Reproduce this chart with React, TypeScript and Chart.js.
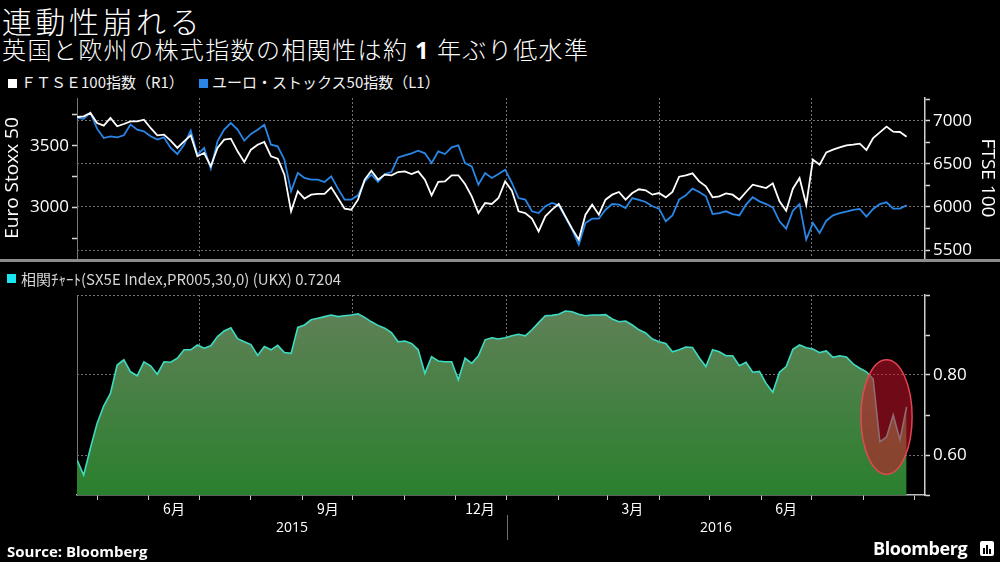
import React, { useEffect, useRef } from 'react';
import { Chart, registerables } from 'chart.js';
Chart.register(...registerables);

// ---------- data ----------
const START_DATE = '2015-04-19';
const STEP_DAYS = 4;
const X_MIN_DATE = '2015-04-19';
const X_MAX_DATE = '2016-09-07';

const ftse100 = [
  7043, 7051, 7089, 6973, 6942, 7031, 6935, 6962, 6993, 6993,
  7012, 6916, 6831, 6838, 6769, 6684, 6761, 6831, 6587, 6626,
  6471, 6684, 6780, 6792, 6645, 6522, 6664, 6722, 6753, 6587,
  6560, 6375, 5950, 6182, 6097, 6143, 6151, 6151, 6228, 6104,
  5981, 5969, 6085, 6317, 6421, 6317, 6375, 6367, 6405, 6413,
  6382, 6413, 6317, 6135, 6290, 6297, 6367, 6367, 6266, 6123,
  5930, 6046, 6035, 6104, 6297, 6189, 5950, 5930, 5865, 5718,
  5892, 5969, 6035, 5892, 5749, 5621, 5911, 6027, 5911, 6085,
  6143, 6174, 6085, 6162, 6205, 6193, 6143, 6162, 6112, 6174,
  6351, 6367, 6390, 6297, 6239, 6112, 6123, 6158, 6143, 6085,
  6174, 6259, 6239, 6220, 6274, 6065, 5957, 6212, 6336, 6027,
  6548, 6490, 6633, 6664, 6691, 6714, 6722, 6734, 6660, 6799,
  6865, 6931, 6873, 6869, 6815,
];

const euroStoxx50 = [
  3725, 3719, 3768, 3638, 3562, 3576, 3568, 3584, 3671, 3630,
  3616, 3576, 3549, 3568, 3481, 3432, 3508, 3622, 3427, 3481,
  3313, 3535, 3630, 3684, 3630, 3541, 3595, 3630, 3671, 3508,
  3495, 3386, 3130, 3278, 3238, 3224, 3224, 3205, 3251, 3151,
  3062, 3062, 3097, 3210, 3265, 3205, 3270, 3286, 3405, 3422,
  3438, 3459, 3438, 3359, 3454, 3432, 3487, 3503, 3359, 3332,
  3183, 3278, 3238, 3270, 3305, 3197, 3075, 3062, 2967, 2953,
  3008, 3035, 3016, 2918, 2818, 2696, 2872, 2907, 2907, 2980,
  3026, 3021, 2994, 3075, 3059, 3043, 3008, 2989, 2886, 2934,
  3062, 3097, 3151, 3124, 3089, 2945, 2953, 2967, 2945, 2934,
  3021, 3081, 3048, 3026, 2999, 2886, 2826, 2972, 3026, 2737,
  2872, 2791, 2891, 2934, 2953, 2964, 2978, 2986, 2924, 2986,
  3026, 3040, 2989, 2989, 3016,
];

const correlation = [
  0.588, 0.550, 0.617, 0.679, 0.723, 0.754, 0.825, 0.838, 0.808, 0.798,
  0.833, 0.823, 0.802, 0.833, 0.832, 0.842, 0.863, 0.863, 0.875, 0.867,
  0.873, 0.896, 0.910, 0.918, 0.891, 0.883, 0.876, 0.849, 0.871, 0.863,
  0.874, 0.856, 0.854, 0.919, 0.925, 0.938, 0.942, 0.946, 0.950, 0.946,
  0.948, 0.950, 0.953, 0.944, 0.933, 0.924, 0.917, 0.906, 0.883, 0.885,
  0.879, 0.863, 0.804, 0.846, 0.835, 0.833, 0.833, 0.788, 0.842, 0.829,
  0.848, 0.888, 0.893, 0.890, 0.893, 0.898, 0.902, 0.898, 0.913, 0.931,
  0.948, 0.949, 0.952, 0.960, 0.958, 0.952, 0.948, 0.950, 0.950, 0.951,
  0.940, 0.933, 0.935, 0.925, 0.913, 0.905, 0.890, 0.883, 0.879, 0.858,
  0.863, 0.870, 0.869, 0.843, 0.821, 0.863, 0.858, 0.848, 0.848, 0.823,
  0.832, 0.807, 0.809, 0.779, 0.757, 0.807, 0.821, 0.864, 0.875, 0.868,
  0.865, 0.856, 0.860, 0.844, 0.848, 0.845, 0.828, 0.817, 0.808, 0.790,
  0.633, 0.645, 0.700, 0.638, 0.7204,
];

const monthStarts = [
  '2015-05-01', '2015-06-01', '2015-07-01', '2015-08-01', '2015-09-01', '2015-10-01',
  '2015-11-01', '2015-12-01', '2016-01-01', '2016-02-01', '2016-03-01', '2016-04-01',
  '2016-05-01', '2016-06-01', '2016-07-01', '2016-08-01', '2016-09-01',
];
const quarterStarts = ['2015-07-01', '2015-10-01', '2016-01-01', '2016-04-01', '2016-07-01'];
const monthLabelDates = ['2015-06-16', '2015-09-16', '2015-12-16', '2016-03-16', '2016-06-16'];
const monthLabelTexts = ['6月', '9月', '12月', '3月', '6月'];
const yearLabels = ['2015', '2016'];
const yearBoundary = '2016-01-01';

const stoxxTicks = [2750, 3000, 3250, 3500, 3750];
const ftseTicks = [5500, 5750, 6000, 6250, 6500, 6750, 7000, 7250];
const corrTicks = [0.5, 0.6, 0.7, 0.8, 0.9, 1.0];
const corrLabelled = [0.6, 0.8];
const corrGridded = [0.6, 0.8, 1.0];

const STOXX_MIN = 2588, STOXX_MAX = 3887;
const FTSE_MIN = 5409, FTSE_MAX = 7263;
const CORR_MIN = 0.5, CORR_MAX = 1.0;

// highlight ellipse (annotation) in data coordinates
const ELLIPSE_CENTER_DATE = '2016-08-15';
const ELLIPSE_HALF_DAYS = 15.3;
const ELLIPSE_CENTER_VALUE = 0.695;
const ELLIPSE_HALF_VALUE = 0.143;

// ---------- helpers ----------
const dayNum = (s: string) => {
  const [y, m, d] = s.split('-').map(Number);
  return (Date.UTC(y, m - 1, d) - Date.UTC(2015, 0, 1)) / 86400000;
};
const startDay = dayNum(START_DATE);
const toPoints = (arr: number[]) => arr.map((v, i) => ({ x: startDay + i * STEP_DAYS, y: v }));

const GRID = 'rgba(150,150,150,0.75)';
const CLEAR = 'rgba(0,0,0,0)';
const NUM_FONT = '"Open Sans", "DejaVu Sans", sans-serif';
const JP_FONT = '"Noto Sans CJK JP", "Noto Sans", sans-serif';

export default function App() {
  const topRef = useRef<HTMLCanvasElement | null>(null);
  const botRef = useRef<HTMLCanvasElement | null>(null);

  useEffect(() => {
    const xMin = dayNum(X_MIN_DATE);
    const xMax = dayNum(X_MAX_DATE);
    const quarterDays = quarterStarts.map(dayNum);
    const monthDays = monthStarts.map(dayNum);
    const labelDays = monthLabelDates.map(dayNum);
    const labelMap = new Map<number, string>();
    labelDays.forEach((d, i) => labelMap.set(d, monthLabelTexts[i]));

    const top = new Chart(topRef.current as HTMLCanvasElement, {
      type: 'line',
      data: {
        datasets: [
          {
            label: 'FTSE100',
            data: toPoints(ftse100),
            yAxisID: 'y1',
            borderColor: '#ffffff',
            borderWidth: 1.8,
            pointRadius: 0,
            tension: 0,
          },
          {
            label: 'EuroStoxx50',
            data: toPoints(euroStoxx50),
            yAxisID: 'y',
            borderColor: '#2886e6',
            borderWidth: 1.8,
            pointRadius: 0,
            tension: 0,
          },
        ],
      },
      options: {
        responsive: false,
        animation: false,
        events: [],
        layout: { padding: { top: 18, bottom: 14, left: 0, right: 0 } },
        plugins: { legend: { display: false }, tooltip: { enabled: false } },
        scales: {
          x: {
            type: 'linear',
            min: xMin,
            max: xMax,
            afterBuildTicks: (s: any) => { s.ticks = quarterDays.map((v) => ({ value: v })); },
            afterFit: (s: any) => { s.height = 0; },
            ticks: { display: false },
            grid: { color: GRID, drawTicks: false, lineWidth: 1 },
            border: { display: false, dash: [2, 2] },
          },
          y: {
            type: 'linear',
            position: 'left',
            min: STOXX_MIN,
            max: STOXX_MAX,
            afterBuildTicks: (s: any) => { s.ticks = stoxxTicks.map((v) => ({ value: v })); },
            afterFit: (s: any) => { s.width = 77; },
            ticks: {
              autoSkip: false,
              color: '#ffffff',
              font: { family: NUM_FONT, size: 17 },
              padding: 3,
              callback: (v: any) => (v % 500 === 0 ? String(v) : ''),
            },
            grid: { drawOnChartArea: false, tickLength: 5, tickColor: '#d8d8d8', tickWidth: 1.5 },
            border: { display: true, color: '#777777', width: 1 },
            title: {
              display: true,
              text: 'Euro Stoxx 50',
              color: '#ffffff',
              font: { family: NUM_FONT, size: 19 },
              padding: { top: 1, bottom: 0 },
            },
          },
          y1: {
            type: 'linear',
            position: 'right',
            min: FTSE_MIN,
            max: FTSE_MAX,
            afterBuildTicks: (s: any) => { s.ticks = ftseTicks.map((v) => ({ value: v })); },
            afterFit: (s: any) => { s.width = 75; },
            ticks: {
              autoSkip: false,
              color: '#ffffff',
              font: { family: NUM_FONT, size: 17 },
              padding: 3,
              callback: (v: any) => (v % 500 === 0 ? String(v) : ''),
            },
            grid: {
              drawOnChartArea: true,
              color: (c: any) => (c.tick && c.tick.value % 500 === 0 ? GRID : CLEAR),
              tickColor: '#d8d8d8',
              tickLength: 5,
              tickWidth: 1.5,
            },
            border: { display: true, color: '#cfcfcf', width: 1.5, dash: [2, 2] },
            title: {
              display: true,
              text: 'FTSE 100',
              color: '#ffffff',
              font: { family: NUM_FONT, size: 19 },
              padding: { top: 1, bottom: 0 },
            },
          },
        },
      },
    } as any);

    const ellipsePlugin = {
      id: 'highlightEllipse',
      afterDatasetsDraw(chart: any) {
        const xs = chart.scales.x;
        const ys = chart.scales.y;
        const cd = dayNum(ELLIPSE_CENTER_DATE);
        const cx = xs.getPixelForValue(cd);
        const cy = ys.getPixelForValue(ELLIPSE_CENTER_VALUE);
        const rx = Math.abs(xs.getPixelForValue(cd + ELLIPSE_HALF_DAYS) - cx);
        const ry = Math.abs(ys.getPixelForValue(ELLIPSE_CENTER_VALUE + ELLIPSE_HALF_VALUE) - cy);
        const ctx = chart.ctx;
        ctx.save();
        ctx.beginPath();
        ctx.ellipse(cx, cy, rx, ry, 0, 0, Math.PI * 2);
        ctx.fillStyle = 'rgba(205,18,42,0.55)';
        ctx.fill();
        ctx.lineWidth = 1.5;
        ctx.strokeStyle = 'rgba(235,70,85,0.95)';
        ctx.stroke();
        ctx.restore();
      },
    };

    const yearPlugin = {
      id: 'yearLabels',
      afterDraw(chart: any) {
        const xs = chart.scales.x;
        const area = chart.chartArea;
        const bx = xs.getPixelForValue(dayNum(yearBoundary));
        const ctx = chart.ctx;
        ctx.save();
        ctx.strokeStyle = '#6f6f6f';
        ctx.lineWidth = 1;
        ctx.beginPath();
        ctx.moveTo(Math.round(bx) + 0.5, xs.top + 20);
        ctx.lineTo(Math.round(bx) + 0.5, xs.top + 45);
        ctx.stroke();
        ctx.fillStyle = '#ffffff';
        ctx.font = '14px ' + NUM_FONT;
        ctx.textAlign = 'center';
        ctx.textBaseline = 'middle';
        ctx.fillText(yearLabels[0], (area.left + bx) / 2, xs.top + 33);
        ctx.fillText(yearLabels[1], (bx + area.right) / 2, xs.top + 33);
        ctx.restore();
      },
    };

    const xTicks = [...monthDays, ...labelDays].sort((a, b) => a - b).map((v) => ({ value: v }));
    const near = (a: number, list: number[]) => list.some((b) => Math.abs(a - b) < 1e-6);

    const bottom = new Chart(botRef.current as HTMLCanvasElement, {
      type: 'line',
      data: {
        datasets: [
          {
            label: 'corr',
            data: toPoints(correlation),
            yAxisID: 'y',
            borderColor: '#3edbc3',
            borderWidth: 1.6,
            pointRadius: 0,
            tension: 0,
            fill: 'start',
            backgroundColor: (c: any) => {
              const ch = c.chart;
              const a = ch.chartArea;
              if (!a) return 'rgb(70,128,70)';
              const g = ch.ctx.createLinearGradient(0, a.top, 0, a.bottom);
              g.addColorStop(0, 'rgb(100,128,90)');
              g.addColorStop(1, 'rgb(42,128,46)');
              return g;
            },
          },
        ],
      },
      options: {
        responsive: false,
        animation: false,
        events: [],
        layout: { padding: { top: 25, bottom: 27, left: 0, right: 0 } },
        plugins: { legend: { display: false }, tooltip: { enabled: false } },
        scales: {
          x: {
            type: 'linear',
            min: xMin,
            max: xMax,
            afterBuildTicks: (s: any) => { s.ticks = xTicks.map((t) => ({ ...t })); },
            afterFit: (s: any) => { s.height = 40; },
            ticks: {
              autoSkip: false,
              maxRotation: 0,
              minRotation: 0,
              padding: 0,
              color: '#ffffff',
              font: { family: JP_FONT, size: 14 },
              callback: (v: any) => labelMap.get(v) ?? '',
            },
            grid: {
              color: (c: any) => (c.tick && near(c.tick.value, quarterDays) ? GRID : CLEAR),
              tickColor: (c: any) => (c.tick && near(c.tick.value, monthDays) ? '#c8c8c8' : CLEAR),
              tickLength: 5,
              tickWidth: 1,
            },
            border: { display: true, color: '#bdbdbd', width: 1.5, dash: [2, 2] },
          },
          y: {
            type: 'linear',
            position: 'right',
            min: CORR_MIN,
            max: CORR_MAX,
            afterBuildTicks: (s: any) => { s.ticks = corrTicks.map((v) => ({ value: v })); },
            afterFit: (s: any) => { s.width = 75; },
            ticks: {
              autoSkip: false,
              color: '#ffffff',
              font: { family: NUM_FONT, size: 17 },
              padding: 3,
              callback: (v: any) => (near(v, corrLabelled) ? Number(v).toFixed(2) : ''),
            },
            grid: {
              color: (c: any) => (c.tick && near(c.tick.value, corrGridded) ? GRID : CLEAR),
              tickColor: '#d8d8d8',
              tickLength: 5,
              tickWidth: 1.5,
            },
            border: { display: true, color: '#cfcfcf', width: 1.5, dash: [2, 2] },
          },
          yl: {
            type: 'linear',
            position: 'left',
            min: CORR_MIN,
            max: CORR_MAX,
            afterFit: (s: any) => { s.width = 77; },
            ticks: { display: false },
            grid: { drawOnChartArea: false, drawTicks: false },
            border: { display: true, color: '#777777', width: 1 },
          },
        },
      },
      plugins: [ellipsePlugin, yearPlugin],
    } as any);

    return () => {
      top.destroy();
      bottom.destroy();
    };
  }, []);

  const abs = (o: React.CSSProperties): React.CSSProperties => ({ position: 'absolute', whiteSpace: 'nowrap', ...o });

  return (
    <div
      style={{
        position: 'fixed',
        left: 0,
        top: 0,
        width: 1000,
        height: 562,
        background: '#000',
        overflow: 'hidden',
        color: '#fff',
        fontFamily: JP_FONT,
      }}
    >
      <div style={abs({ left: 2, top: 4, fontSize: 30, lineHeight: '32px', letterSpacing: 3.5, fontWeight: 300 })}>
        連動性崩れる
      </div>
      <div style={abs({ left: 2, top: 35, fontSize: 24, lineHeight: '28px', letterSpacing: 1.4, fontWeight: 300 })}>
        英国と欧州の株式指数の相関性は約 <b style={{ fontWeight: 700, fontFamily: NUM_FONT }}>1</b> 年ぶり低水準
      </div>

      <div style={abs({ left: 8, top: 79, width: 9, height: 9, background: '#ffffff' })} />
      <div style={abs({ left: 21, top: 73, fontSize: 15, lineHeight: '18px', color: '#f2f2f2' })}>ＦＴＳＥ100指数（R1）</div>
      <div style={abs({ left: 199, top: 79, width: 9, height: 9, background: '#2886e6' })} />
      <div style={abs({ left: 212, top: 73, fontSize: 15, lineHeight: '18px', color: '#f2f2f2' })}>ユーロ・ストックス50指数（L1）</div>

      <canvas ref={topRef} width={1000} height={192} style={{ position: 'absolute', left: 0, top: 80 }} />

      <div style={abs({ left: 0, top: 259, width: 1000, height: 3, background: '#8c8c8c' })} />

      <div style={abs({ left: 7, top: 274, width: 9, height: 9, background: '#19e6f0' })} />
      <div style={abs({ left: 21, top: 270, fontSize: 15, lineHeight: '18px', color: '#d4d4d4' })}>
        相関ﾁｬｰﾄ(SX5E Index,PR005,30,0) (UKX) 0.7204
      </div>

      <canvas ref={botRef} width={1000} height={292} style={{ position: 'absolute', left: 0, top: 270 }} />

      <div style={abs({ left: 7, top: 542, fontSize: 15, lineHeight: '18px', fontWeight: 700, fontFamily: NUM_FONT })}>
        Source: Bloomberg
      </div>
      <div style={abs({ left: 873, top: 538, fontSize: 18, lineHeight: '20px', fontWeight: 700, fontFamily: NUM_FONT, letterSpacing: -0.4 })}>
        Bloomberg
      </div>
      <div style={abs({ left: 980, top: 541, width: 14, height: 15, background: '#fff', borderRadius: 2 })}>
        <div style={abs({ left: 3, top: 7, width: 2, height: 6, background: '#000' })} />
        <div style={abs({ left: 6, top: 4, width: 2, height: 9, background: '#000' })} />
        <div style={abs({ left: 9, top: 8, width: 2, height: 5, background: '#000' })} />
      </div>
    </div>
  );
}
